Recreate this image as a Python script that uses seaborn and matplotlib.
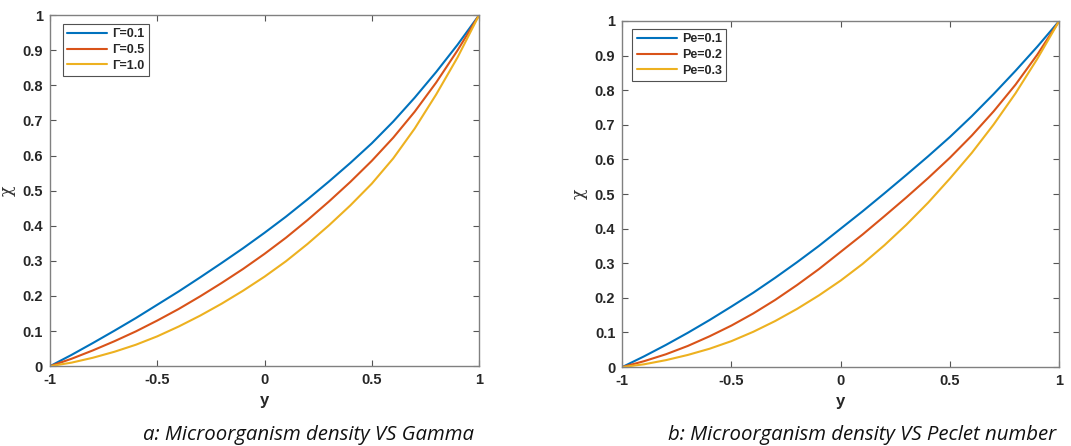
import numpy as np
import pandas as pd
import matplotlib
matplotlib.use("Agg")
import matplotlib.pyplot as plt
import seaborn as sns

# ---- data ----
y_pos = [-1.0, -0.9, -0.8, -0.7, -0.6, -0.5, -0.4, -0.3, -0.2, -0.1, 0.0,
         0.1, 0.2, 0.3, 0.4, 0.5, 0.6, 0.7, 0.8, 0.9, 1.0]

gamma_labels = ["Γ=0.1", "Γ=0.5", "Γ=1.0"]
gamma_01 = [0, 0.032, 0.066, 0.101, 0.137, 0.175, 0.213, 0.253, 0.294, 0.336, 0.380,
            0.426, 0.475, 0.526, 0.579, 0.635, 0.697, 0.765, 0.838, 0.916, 1.0]
gamma_05 = [0, 0.021, 0.045, 0.071, 0.099, 0.130, 0.163, 0.199, 0.237, 0.277, 0.320,
            0.366, 0.416, 0.469, 0.525, 0.585, 0.651, 0.725, 0.808, 0.900, 1.0]
gamma_10 = [0, 0.010, 0.024, 0.041, 0.061, 0.085, 0.113, 0.144, 0.178, 0.215, 0.255,
            0.299, 0.348, 0.401, 0.458, 0.520, 0.592, 0.677, 0.774, 0.880, 1.0]

pe_labels = ["Pe=0.1", "Pe=0.2", "Pe=0.3"]
pe_01 = [0, 0.031, 0.064, 0.099, 0.136, 0.175, 0.215, 0.258, 0.303, 0.350, 0.400,
         0.450, 0.502, 0.555, 0.609, 0.665, 0.725, 0.789, 0.856, 0.926, 1.0]
pe_02 = [0, 0.017, 0.037, 0.061, 0.089, 0.120, 0.155, 0.194, 0.237, 0.283, 0.333,
         0.383, 0.436, 0.490, 0.546, 0.605, 0.669, 0.739, 0.816, 0.903, 1.0]
pe_03 = [0, 0.008, 0.020, 0.035, 0.053, 0.075, 0.102, 0.133, 0.168, 0.207, 0.250,
         0.298, 0.352, 0.411, 0.475, 0.545, 0.619, 0.701, 0.791, 0.891, 1.0]

x_ticks = [-1, -0.5, 0, 0.5, 1]
x_ticklabels = ["-1", "-0.5", "0", "0.5", "1"]
y_ticks = [0, 0.1, 0.2, 0.3, 0.4, 0.5, 0.6, 0.7, 0.8, 0.9, 1]
y_ticklabels = ["0", "0.1", "0.2", "0.3", "0.4", "0.5", "0.6", "0.7", "0.8", "0.9", "1"]

captions = ["a: Microorganism density VS Gamma",
            "b: Microorganism density VS Peclet number"]

colors = ["#0072BD", "#D95319", "#EDB120"]

sns.set_theme(style="white")
plt.rcParams["font.family"] = ["Liberation Sans", "DejaVu Sans"]

fig = plt.figure(figsize=(10.71, 4.46), dpi=100)
ax1 = fig.add_axes([0.0467, 0.179, 0.4006, 0.787])
ax2 = fig.add_axes([0.581, 0.177, 0.408, 0.776])


def make_df(labels, series):
    rows = []
    for lab, vals in zip(labels, series):
        for xv, yv in zip(y_pos, vals):
            rows.append({"y": xv, "chi": yv, "param": lab})
    return pd.DataFrame(rows)


panels = [
    (ax1, gamma_labels, [gamma_01, gamma_05, gamma_10], captions[0], (0.03, 0.975), 0.217),
    (ax2, pe_labels, [pe_01, pe_02, pe_03], captions[1], (0.023, 0.977), 0.105),
]

for ax, labels, series, cap, leg_anchor, cap_x in panels:
    df = make_df(labels, series)
    sns.lineplot(data=df, x="y", y="chi", hue="param", hue_order=labels,
                 palette=colors, linewidth=1.5, ax=ax, legend=True)
    for ln in ax.get_lines():
        ln.set_solid_joinstyle("round")
    ax.set_xlim(-1, 1)
    ax.set_ylim(0, 1)
    ax.set_xticks(x_ticks)
    ax.set_xticklabels(x_ticklabels, fontweight="bold", fontsize=10.5, color="#262626")
    ax.set_yticks(y_ticks)
    ax.set_yticklabels(y_ticklabels, fontweight="bold", fontsize=10.5, color="#262626")
    ax.tick_params(direction="in", length=4, width=0.8, color="#555555",
                   top=True, right=True, bottom=True, left=True, pad=5)
    for sp in ax.spines.values():
        sp.set_color("#808080")
        sp.set_linewidth(1.0)
    ax.set_xlabel("y", fontweight="bold", fontsize=12, color="#262626", labelpad=4)
    ax.set_ylabel("χ", fontsize=12.5, color="#333333", labelpad=5,
                  family=["DejaVu Serif"])
    leg = ax.legend(loc="upper left", bbox_to_anchor=leg_anchor, frameon=True,
                    fancybox=False, edgecolor="#262626", fontsize=9,
                    handlelength=3.2, borderpad=0.35, labelspacing=0.3,
                    handletextpad=0.4, borderaxespad=0.0)
    leg.get_frame().set_linewidth(0.8)
    for t in leg.get_texts():
        t.set_fontweight("bold")
    ax.text(cap_x, -0.197, cap, transform=ax.transAxes, ha="left", va="center",
            fontsize=14.7, style="italic", color="#111111",
            family=["Open Sans", "DejaVu Sans"])

fig.savefig("out.png", dpi=100, facecolor="white")
